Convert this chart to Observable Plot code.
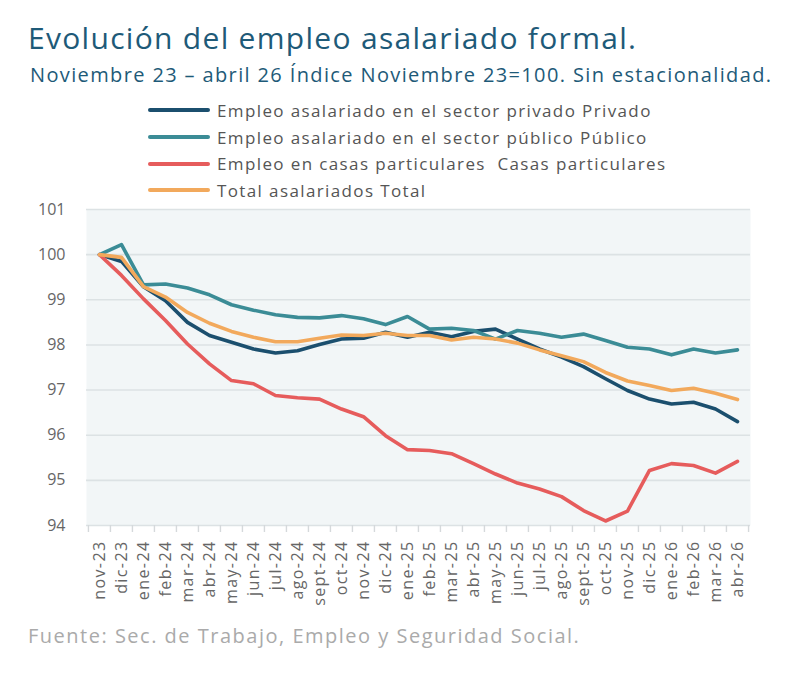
<!DOCTYPE html>
<html>
<head>
<meta charset="utf-8">
<script src="https://cdn.jsdelivr.net/npm/d3@7"></script>
<script src="https://cdn.jsdelivr.net/npm/@observablehq/plot@0.6"></script>
<style>
  body { margin: 0; background: #ffffff; font-family: "Open Sans", sans-serif; }
  #wrap { position: relative; width: 790px; height: 679px; }
  #title { position: absolute; left: 28px; top: 17px; font-size: 30px; color: #1e5a78; white-space: nowrap; letter-spacing: 1.3px; }
  #subtitle { position: absolute; left: 30px; top: 61px; font-size: 20px; color: #1e5a78; white-space: nowrap; letter-spacing: 1.37px; }
  #legend { position: absolute; left: 148px; top: 97px; }
  .lg { display: flex; align-items: center; height: 26.7px; font-size: 17px; color: #555; white-space: nowrap; letter-spacing: 1.38px; }
  .sw { width: 62px; height: 4px; border-radius: 2px; margin-right: 7px; }
  #chart { position: absolute; left: 0; top: 195px; }
  #chart g[aria-label="x-axis tick label"] text { letter-spacing: 1.4px; }
  #caption { position: absolute; left: 28px; top: 622px; font-size: 20px; color: #aaa; white-space: nowrap; letter-spacing: 1.5px; }
</style>
</head>
<body>
<div id="wrap">
  <div id="title">Evolución del empleo asalariado formal.</div>
  <div id="subtitle">Noviembre 23 – abril 26 Índice Noviembre 23=100. Sin estacionalidad.</div>
  <div id="legend"></div>
  <div id="chart"></div>
  <div id="caption">Fuente: Sec. de Trabajo, Empleo y Seguridad Social.</div>
</div>
<script>
const months = ["nov-23","dic-23","ene-24","feb-24","mar-24","abr-24","may-24","jun-24","jul-24","ago-24","sept-24","oct-24","nov-24","dic-24","ene-25","feb-25","mar-25","abr-25","may-25","jun-25","jul-25","ago-25","sept-25","oct-25","nov-25","dic-25","ene-26","feb-26","mar-26","abr-26"];
const privado = [100,99.85,99.29,98.98,98.50,98.21,98.06,97.91,97.82,97.87,98.01,98.13,98.15,98.28,98.17,98.28,98.18,98.30,98.35,98.13,97.91,97.73,97.52,97.25,96.99,96.80,96.69,96.73,96.58,96.30];
const publico = [100,100.22,99.33,99.35,99.26,99.11,98.89,98.77,98.67,98.61,98.60,98.65,98.58,98.45,98.63,98.35,98.37,98.32,98.13,98.32,98.26,98.17,98.24,98.10,97.95,97.91,97.78,97.91,97.82,97.89];
const casas = [100,99.54,99.02,98.54,98.02,97.58,97.21,97.14,96.88,96.83,96.80,96.58,96.41,95.99,95.68,95.66,95.59,95.37,95.14,94.94,94.81,94.64,94.33,94.10,94.32,95.22,95.37,95.33,95.16,95.42];
const total = [100,99.94,99.29,99.06,98.72,98.48,98.30,98.17,98.07,98.07,98.15,98.22,98.21,98.26,98.21,98.21,98.11,98.17,98.13,98.04,97.89,97.76,97.63,97.39,97.20,97.10,96.99,97.04,96.93,96.79];
const seriesNames = ["Empleo asalariado en el sector privado Privado","Empleo asalariado en el sector público Público","Empleo en casas particulares  Casas particulares","Total asalariados Total"];
const seriesColors = ["#1b4f6e","#3b8c96","#e65c5c","#f2a95c"];
const yTicks = [94,95,96,97,98,99,100,101];

const seriesValues = [privado, publico, casas, total];
const data = [];
seriesNames.forEach((name, s) => months.forEach((m, i) => data.push({month: m, value: seriesValues[s][i], series: name})));

// legend
const lg = document.getElementById("legend");
seriesNames.forEach((n, i) => {
  const row = document.createElement("div");
  row.className = "lg";
  row.innerHTML = `<span class="sw" style="background:${seriesColors[i]}"></span><span>${n.replace(/  /g, "&nbsp; ")}</span>`;
  lg.appendChild(row);
});

const W = 790, mL = 86, mR = 40;
const step = (W - mL - mR) / months.length;

const chart = Plot.plot({
  width: W,
  height: 415,
  marginTop: 14,
  marginBottom: 85,
  marginLeft: mL,
  marginRight: mR,
  style: {fontFamily: "Open Sans, sans-serif", background: "transparent"},
  x: {type: "point", domain: months, padding: 0.5},
  y: {domain: [94, 101], axis: null},
  color: {domain: seriesNames, range: seriesColors},
  marks: [
    Plot.frame({fill: "#f2f6f7", stroke: null}),
    Plot.gridY(yTicks, {stroke: "#dce2e4", strokeOpacity: 1, strokeWidth: 1.6}),
    Plot.text(yTicks, {y: d => d, text: d => String(d), frameAnchor: "left", textAnchor: "end", dx: -21, fontSize: 16, fill: "#666"}),
    Plot.axisX({tickSize: 7, tickFormat: () => "", dx: -step / 2, stroke: "#d5d9db", strokeWidth: 1.4, label: null}),
    Plot.axisX([months[months.length - 1]], {tickSize: 7, tickFormat: () => "", dx: step / 2, stroke: "#d5d9db", strokeWidth: 1.4, label: null}),
    Plot.axisX({tickSize: 0, tickRotate: -90, tickPadding: 15, fontSize: 16, color: "#666", label: null}),
    Plot.lineY(data, {x: "month", y: "value", stroke: "series", z: "series", strokeWidth: 3.6, strokeLinejoin: "round", strokeLinecap: "round"})
  ]
});
document.getElementById("chart").appendChild(chart);
</script>
</body>
</html>
